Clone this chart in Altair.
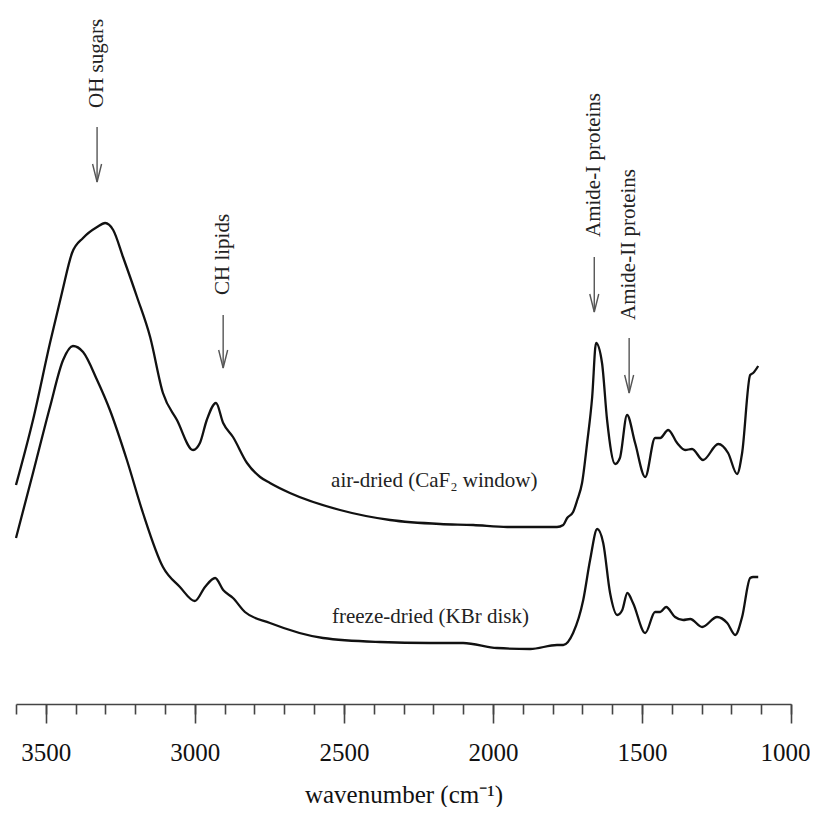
import altair as alt
import pandas as pd

# ---- spectra (absorbance, arbitrary units) ----
air_wn = [3600, 3543, 3486, 3446, 3412, 3375, 3328, 3301, 3274, 3241, 3194, 3150, 3107, 3060,
          3006, 2983, 2960, 2929, 2905, 2872, 2825, 2781, 2748, 2681, 2513, 2345, 2177, 2066,
          1952, 1785, 1764, 1751, 1731, 1717, 1701, 1684, 1667, 1654, 1634, 1617, 1590, 1574,
          1550, 1523, 1489, 1456, 1439, 1412, 1382, 1355, 1332, 1295, 1244, 1211, 1181, 1164,
          1137, 1127, 1110]
air_abs = [2.19, 2.84, 3.61, 4.11, 4.51, 4.66, 4.77, 4.81, 4.74, 4.47, 4.07, 3.67, 3.11, 2.84,
           2.54, 2.61, 2.84, 3.01, 2.81, 2.67, 2.41, 2.27, 2.21, 2.11, 1.94, 1.84, 1.80, 1.79,
           1.77, 1.77, 1.79, 1.86, 1.92, 2.04, 2.21, 2.61, 3.07, 3.61, 3.41, 2.84, 2.40, 2.46,
           2.89, 2.61, 2.27, 2.66, 2.66, 2.74, 2.61, 2.54, 2.55, 2.44, 2.60, 2.51, 2.30, 2.51,
           3.29, 3.31, 3.38]

fd_wn = [3600, 3543, 3486, 3442, 3409, 3375, 3328, 3285, 3228, 3174, 3107, 3050, 3000, 2966,
         2932, 2905, 2872, 2832, 2748, 2570, 2379, 2211, 2100, 1986, 1875, 1785, 1764, 1731,
         1697, 1674, 1650, 1630, 1607, 1583, 1566, 1549, 1530, 1489, 1456, 1439, 1419, 1389,
         1362, 1338, 1298, 1248, 1214, 1187, 1164, 1137, 1127, 1110]
fd_abs = [1.66, 2.31, 2.97, 3.44, 3.58, 3.52, 3.24, 2.94, 2.44, 1.91, 1.37, 1.17, 1.03, 1.17,
          1.26, 1.14, 1.06, 0.92, 0.81, 0.66, 0.62, 0.61, 0.61, 0.56, 0.55, 0.59, 0.59, 0.71,
          1.04, 1.44, 1.75, 1.61, 1.11, 0.89, 0.94, 1.11, 1.01, 0.71, 0.92, 0.92, 0.97, 0.87,
          0.84, 0.85, 0.77, 0.87, 0.81, 0.69, 0.87, 1.26, 1.27, 1.27]

# ---- band annotations ----
ann_labels = ["OH sugars", "CH lipids", "Amide-I proteins", "Amide-II proteins"]
ann_wn = [3328, 2905, 1660, 1543]
ann_text_a = [5.96, 4.09, 4.67, 3.84]
ann_arrow_top = [5.77, 3.89, 4.47, 3.66]
ann_arrow_tip = [5.22, 3.36, 3.92, 3.11]

# ---- sample labels ----
sample_labels = ["air-dried (CaF\u2082 window)", "freeze-dried (KBr disk)"]
sample_wn = [2543, 2540]
sample_a = [2.17, 0.81]

major_ticks = [1000, 1500, 2000, 2500, 3000, 3500]
minor_ticks = list(range(1000, 3601, 100))

FONT = "Liberation Serif"

spec_df = pd.concat([
    pd.DataFrame({"wn": air_wn, "a": air_abs, "sample": "air-dried"}),
    pd.DataFrame({"wn": fd_wn, "a": fd_abs, "sample": "freeze-dried"}),
])
ann_df = pd.DataFrame({"label": ann_labels, "wn": ann_wn, "ta": ann_text_a,
                       "top": ann_arrow_top, "tip": ann_arrow_tip})
lab_df = pd.DataFrame({"label": sample_labels, "wn": sample_wn, "a": sample_a})

xs = alt.Scale(domain=[1000, 3600], reverse=True, nice=False, zero=False)
ys = alt.Scale(domain=[0, 6.96], nice=False, zero=False)

major_axis = alt.Axis(
    orient="bottom", values=major_ticks, format="d", tickSize=19,
    labelFont=FONT, labelFontSize=25, labelColor="#111", labelPadding=17,
    labelFontWeight="normal", labelFlush=True, labelFlushOffset=19, labelOverlap=False,
    title="wavenumber (cm\u207b\u00b9)", titleFont=FONT, titleFontSize=25,
    titleFontWeight="normal", titleColor="#111", titleY=98, titleBaseline="alphabetic",
    domainColor="#444", tickColor="#444", domainWidth=1.6, tickWidth=1.6, grid=False,
)
minor_axis = alt.Axis(
    orient="bottom", values=minor_ticks, tickSize=10, labels=False, title=None,
    domain=False, tickColor="#444", tickWidth=1.6, grid=False,
)

lines = alt.Chart(spec_df).mark_line(
    color="#111", strokeWidth=2.3, interpolate="monotone"
).encode(
    x=alt.X("wn:Q", scale=xs, axis=major_axis),
    y=alt.Y("a:Q", scale=ys, axis=None),
    detail="sample:N",
    order=alt.Order("wn:Q", sort="descending"),
)

shafts = alt.Chart(ann_df).mark_rule(color="#555", strokeWidth=1.4).encode(
    x=alt.X("wn:Q", scale=xs, axis=minor_axis),
    y=alt.Y("top:Q", scale=ys, axis=None), y2="tip:Q"
)

heads = alt.Chart(ann_df).mark_point(
    shape="M -0.25 -1 L 0 0 L 0.25 -1", filled=False, size=1296,
    color="#555", strokeWidth=1.4, opacity=1
).encode(x=alt.X("wn:Q", scale=xs, axis=None), y=alt.Y("tip:Q", scale=ys, axis=None))

ann_text = alt.Chart(ann_df).mark_text(
    angle=270, align="left", baseline="middle", font=FONT, fontSize=21, color="#222"
).encode(x=alt.X("wn:Q", scale=xs, axis=None), y=alt.Y("ta:Q", scale=ys, axis=None),
         text="label:N")

labels = alt.Chart(lab_df).mark_text(
    align="left", baseline="alphabetic", font=FONT, fontSize=21, color="#222"
).encode(x=alt.X("wn:Q", scale=xs, axis=None), y=alt.Y("a:Q", scale=ys, axis=None),
         text="label:N")

chart = alt.layer(lines, shafts, heads, ann_text, labels).resolve_scale(
    x="shared", y="shared"
).resolve_axis(x="independent").properties(
    width=775, height=696,
    autosize=alt.AutoSizeParams(type="none"),
    padding={"left": 8, "top": 0, "right": 19, "bottom": 103},
).configure_view(stroke=None)

chart.save("out.html", embed_options={"renderer": "svg", "actions": False})
